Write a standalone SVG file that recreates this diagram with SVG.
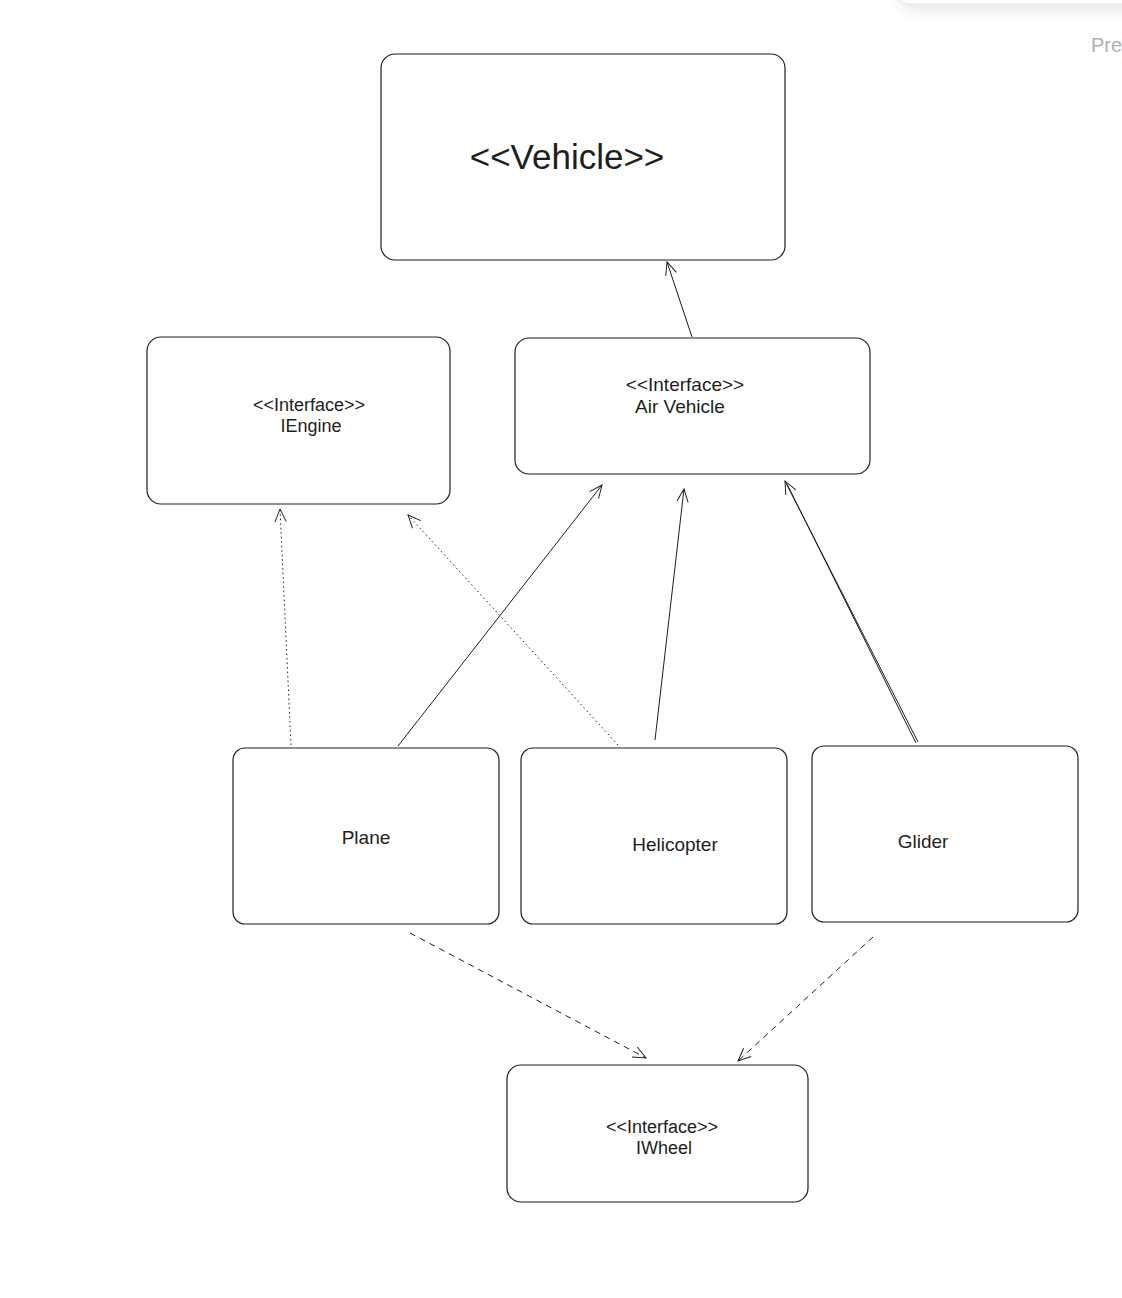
<svg xmlns="http://www.w3.org/2000/svg" width="1122" height="1298" viewBox="0 0 1122 1298">
<style>
.box{fill:#fff;stroke:#1e1e1e;stroke-width:1.2}
.t{font-family:"Liberation Sans",Arial,sans-serif;fill:#1e1e1e;font-size:19px;text-anchor:middle}
.s{font-size:18px}
.big{font-size:35px}
.c{fill:none;stroke:#1e1e1e;stroke-width:1}
.dot{stroke-dasharray:1.5 3}
.dash{stroke-dasharray:6 5}
</style>
<defs>
<marker id="a" viewBox="0 0 20 20" refX="18" refY="10" markerWidth="16" markerHeight="16" markerUnits="userSpaceOnUse" orient="auto">
<path d="M2,3 L18,10 L2,17" fill="none" stroke="#1e1e1e" stroke-width="1.2"/>
</marker>
<filter id="sh" x="-20%" y="-50%" width="140%" height="200%">
<feGaussianBlur stdDeviation="8"/>
</filter>
</defs>
<rect width="1122" height="1298" fill="#fff"/>
<g id="panel">
<rect x="900" y="-30" width="260" height="38" rx="12" fill="#000" opacity="0.12" filter="url(#sh)"/>
<rect x="897" y="-40" width="260" height="44" rx="12" fill="#fff" stroke="#e6e6e6"/>
<text x="1091" y="52" font-family="Liberation Sans,Arial,sans-serif" font-size="20" fill="#b0b0b0">Pre</text>
</g>
<g id="connectors">
<path class="c" d="M692,337 L667,262" marker-end="url(#a)"/>
<path class="c" d="M398,746 L602,485" marker-end="url(#a)"/>
<path class="c" d="M655,740 L684,489" marker-end="url(#a)"/>
<path class="c" d="M918,742 L785,481" marker-end="url(#a)"/>
<path class="c" d="M916,743 L787,484"/>
<path class="c dot" d="M291,745 L280,509" marker-end="url(#a)"/>
<path class="c dot" d="M618,745 L408,515" marker-end="url(#a)"/>
<path class="c dash" d="M410,933 L646,1058" marker-end="url(#a)"/>
<path class="c dash" d="M873,937 L738,1061" marker-end="url(#a)"/>
</g>
<g id="vehicle">
<rect class="box" x="381" y="54" width="404" height="206" rx="14"/>
<text class="t big" x="567" y="169">&lt;&lt;Vehicle&gt;&gt;</text>
</g>
<g id="iengine">
<rect class="box" x="147" y="337" width="303" height="167" rx="14" stroke-width="1.5"/>
<text class="t s" x="309" y="411">&lt;&lt;Interface&gt;&gt;</text>
<text class="t s" x="311" y="432">IEngine</text>
</g>
<g id="airvehicle">
<rect class="box" x="515" y="338" width="355" height="136" rx="14"/>
<text class="t" x="685" y="391">&lt;&lt;Interface&gt;&gt;</text>
<text class="t" x="680" y="413">Air Vehicle</text>
</g>
<g id="plane">
<rect class="box" x="233" y="748" width="266" height="176" rx="12"/>
<text class="t" x="366" y="844">Plane</text>
</g>
<g id="helicopter">
<rect class="box" x="521" y="748" width="266" height="176" rx="12"/>
<text class="t" x="675" y="851">Helicopter</text>
</g>
<g id="glider">
<rect class="box" x="812" y="746" width="266" height="176" rx="12"/>
<text class="t" x="923" y="848">Glider</text>
</g>
<g id="iwheel">
<rect class="box" x="507" y="1065" width="301" height="137" rx="14"/>
<text class="t s" x="662" y="1133">&lt;&lt;Interface&gt;&gt;</text>
<text class="t s" x="664" y="1154">IWheel</text>
</g>
</svg>
